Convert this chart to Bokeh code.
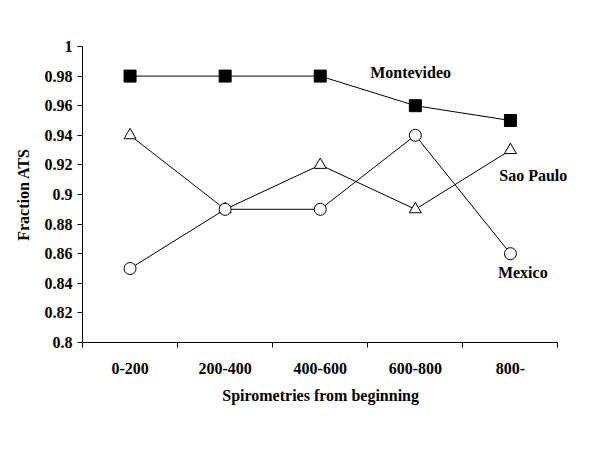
from bokeh.plotting import figure
from bokeh.models import Range1d, FixedTicker, ColumnDataSource, LabelSet, Title
from bokeh.embed import file_html
from bokeh.resources import INLINE

categories = ["0-200", "200-400", "400-600", "600-800", "800-"]
montevideo = [0.98, 0.98, 0.98, 0.96, 0.95]
sao_paulo = [0.94, 0.89, 0.92, 0.89, 0.93]
mexico = [0.85, 0.89, 0.89, 0.94, 0.86]
y_ticks = [0.8, 0.82, 0.84, 0.86, 0.88, 0.9, 0.92, 0.94, 0.96, 0.98, 1.0]
y_tick_labels = ["0.8", "0.82", "0.84", "0.86", "0.88", "0.9", "0.92", "0.94", "0.96", "0.98", "1"]
series_labels = ["Montevideo", "Sao Paulo", "Mexico"]
label_x = [3.45, 4.74, 4.63]
label_y = [0.9824, 0.9128, 0.8473]
x_title = "Spirometries from beginning"

FONT = "Liberation Serif"
n = len(categories)
xs = [i + 0.5 for i in range(n)]
extra = 0.3
W, H = 590, 450
LEFT, RIGHT = 82, 4
TITLE_W = 196  # approx. rendered width of the x title, px

# frame extends a little past the last category so the right-hand labels are not clipped;
# the x axis line itself is bounded to the categories.
p = figure(width=W, height=H, output_backend="svg", toolbar_location=None,
           x_range=Range1d(0, n + extra), y_range=Range1d(0.8, 1.0),
           min_border_left=LEFT, min_border_right=RIGHT, min_border_top=46, min_border_bottom=108)
p.outline_line_color = None
p.grid.visible = False
p.background_fill_color = "white"
p.border_fill_color = "white"

# x axis: labels at category centres, ticks at category boundaries (minor ticks)
p.xaxis.bounds = (0, n)
p.xaxis.ticker = FixedTicker(ticks=xs, minor_ticks=list(range(0, n + 1)))
p.xaxis.major_label_overrides = {x: c for x, c in zip(xs, categories)}
p.xaxis.major_tick_line_color = None
p.xaxis.minor_tick_out = 5
p.xaxis.minor_tick_in = 0
p.xaxis.minor_tick_line_color = "black"

p.yaxis.ticker = FixedTicker(ticks=y_ticks, minor_ticks=[])
p.yaxis.major_label_overrides = {t: l for t, l in zip(y_ticks, y_tick_labels)}
p.yaxis.major_tick_out = 5
p.yaxis.major_tick_in = 0
p.yaxis.axis_label = "Fraction ATS"

for ax in (p.xaxis, p.yaxis):
    ax.axis_line_color = "black"
    ax.axis_line_width = 1
    ax.major_label_text_font = FONT
    ax.major_label_text_font_style = "bold"
    ax.major_label_text_font_size = "16px"
    ax.major_label_text_color = "black"
    ax.axis_label_text_font = FONT
    ax.axis_label_text_font_style = "bold"
    ax.axis_label_text_font_size = "16px"
    ax.axis_label_text_color = "black"
p.xaxis.major_label_standoff = 14
p.yaxis.major_label_standoff = 5
p.yaxis.axis_label_standoff = 10

# x-axis title centred on the categories (not on the wider frame)
frame_w = W - LEFT - RIGHT
centre = (n / 2) * frame_w / (n + extra)
p.add_layout(Title(text=x_title, align="left", offset=centre - TITLE_W / 2, standoff=16,
                   text_font=FONT, text_font_style="bold", text_font_size="16px",
                   text_color="black"), "below")

p.line(xs, montevideo, line_color="black", line_width=1)
p.scatter(xs, montevideo, marker="square", size=12, fill_color="black", line_color="black")

p.line(xs, sao_paulo, line_color="black", line_width=1)
p.scatter(xs, sao_paulo, marker="triangle", size=12, fill_color="white", line_color="black", line_width=1)

p.line(xs, mexico, line_color="black", line_width=1)
p.scatter(xs, mexico, marker="circle", size=12, fill_color="white", line_color="black", line_width=1)

src = ColumnDataSource(dict(x=label_x, y=label_y, t=series_labels))
labels = LabelSet(x="x", y="y", text="t", source=src, text_font=FONT, text_font_style="bold",
                  text_font_size="16px", text_align="center", text_baseline="middle",
                  text_color="black")
p.add_layout(labels)

open("out.html", "w").write(file_html(p, INLINE))
